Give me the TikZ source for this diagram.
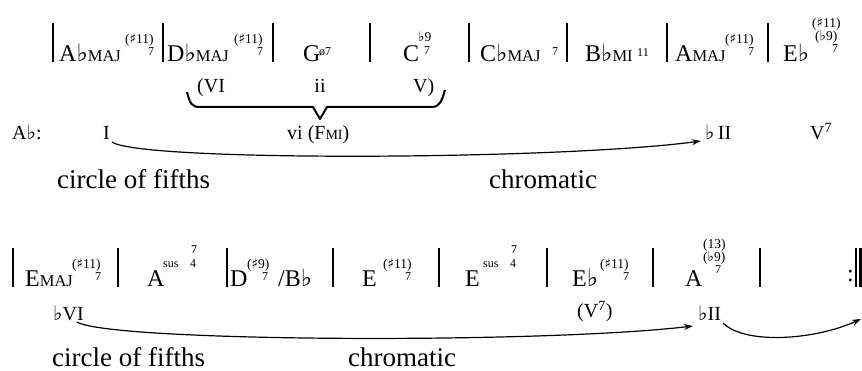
\documentclass[tikz,border=0pt]{standalone}
\usepackage{fontspec}
\setmainfont{Liberation Serif}
\newfontfamily\symf{DejaVu Sans}
\usetikzlibrary{arrows.meta}
\newcommand\fl{{\symf ♭}}
\newcommand\shp{{\symf ♯}}
\newcommand\smc[1]{{\fontsize{16.5}{16.5}\selectfont #1}}
\newcommand\smcl[1]{{\fontsize{14}{14}\selectfont #1}}
\begin{document}
\begin{tikzpicture}[x=1pt,y=-1pt,
  chord/.style={anchor=base west, inner sep=0pt, font=\fontsize{24}{24}\selectfont},
  sup/.style={anchor=base west, inner sep=0pt, font=\fontsize{13.5}{13.5}\selectfont},
  sev/.style={anchor=base west, inner sep=0pt, font=\fontsize{12}{12}\selectfont},
  lbl/.style={anchor=base west, inner sep=0pt, font=\fontsize{20}{20}\selectfont},
  lblc/.style={anchor=base, inner sep=0pt, font=\fontsize{20}{20}\selectfont},
  big/.style={anchor=base west, inner sep=0pt, font=\fontsize{27}{27}\selectfont},
  bar/.style={line width=2.4pt},
  arr/.style={line width=1.2pt, -{Stealth[length=9pt,width=6pt]}},
  bracestyle/.style={line width=2pt, line join=round}]
\useasboundingbox (0,0) rectangle (862,371);
% ---------- system 1 barlines
\foreach \bx in {53,163,273,370,469,567,667,768}
  \draw[bar] (\bx,23) -- (\bx,62);
% ---------- system 1 chords
\node[chord] (c1) at (59,62) {A\fl\smc{MAJ}};
\node[sup] (c1a) at (125,44) {(\shp11)};
\node[sev] (c1b) at (148,56) {7};
\node[chord] (c2) at (167,62) {D\fl\smc{MAJ}};
\node[sup] (c2a) at (234,44) {(\shp11)};
\node[sev] (c2b) at (257,56) {7};
\node[chord] (c3) at (303,62) {G};
\node[sev] (c3a) at (319,56) {ø7};
\node[chord] (c4) at (403,62) {C};
\node[sup] (c4a) at (418,42) {\fl9};
\node[sev] (c4b) at (424,55) {7};
\node[chord] (c5) at (480,62) {C\fl\smc{MAJ}};
\node[sev] (c5a) at (552,56) {7};
\node[chord] (c6) at (585,62) {B\fl\smc{MI}};
\node[sev] (c6a) at (637,57) {11};
\node[chord] (c7) at (675,62) {A\smc{MAJ}};
\node[sup] (c7a) at (725,44) {(\shp11)};
\node[sev] (c7b) at (748,56) {7};
\node[chord] (c8) at (783,62) {E\fl};
\node[sup] (c8a) at (812,28) {(\shp11)};
\node[sup] (c8b) at (815,41) {(\fl9)};
\node[sev] (c8c) at (832,52.5) {7};
% ---------- bracket line
\node[lbl] (r6) at (197,93) {(VI};
\node[lblc] (r2) at (320,93) {ii};
\node[lbl] (r5) at (413,93) {V)};
\draw[bracestyle] (187,92) .. controls (190,104) and (192,107) .. (200,107)
  -- (313,107) -- (320,119) -- (327,107) -- (432,107)
  .. controls (440,107) and (442,100) .. (445,90);
% ---------- analysis line 1
\node[lbl] (key) at (12,140) {A\fl:};
\node[lbl] (one) at (103,140) {I};
\node[lbl] (six) at (287,140) {vi (F\smcl{MI})};
\node[lbl] (nap) at (705,140) {\fl\,II};
\node[lbl] (dom) at (810,140) {V\textsuperscript{7}};
\coordinate (a1s) at (112,142);
\coordinate (a1e) at (701,141);
\draw[arr] (a1s) .. controls (140,162) and (560,160) .. (a1e);
\node[big] (cf1) at (57,189) {circle of fifths};
\node[big] (ch1) at (489,189) {chromatic};
% ---------- system 2 barlines
\foreach \bx in {13,118,227,333,439,547,653,760}
  \draw[bar] (\bx,248) -- (\bx,287);
\draw[line width=2.2pt] (856,248) -- (856,287);
\draw[line width=2.2pt] (860.5,248) -- (860.5,287);
\node[chord] (rpt) at (847,282) {:};
% ---------- system 2 chords
\node[chord] (d1) at (25,287) {E\smc{MAJ}};
\node[sup] (d1a) at (72,269) {(\shp11)};
\node[sev] (d1b) at (95,281) {7};
\node[chord] (d2) at (147,287) {A};
\node[sev] (d2a) at (163,268) {sus};
\node[sev] (d2b) at (190,268) {4};
\node[sev] (d2c) at (191,254) {7};
\node[chord] (d3) at (230,287) {D};
\node[sup] (d3a) at (247,269) {(\shp9)};
\node[sev] (d3b) at (262,281) {7};
\node[chord] (d3c) at (278,287) {/B\fl};
\node[chord] (d4) at (362,287) {E};
\node[sup] (d4a) at (383,269) {(\shp11)};
\node[sev] (d4b) at (405,281) {7};
\node[chord] (d5) at (465,287) {E};
\node[sev] (d5a) at (483,268) {sus};
\node[sev] (d5b) at (510,268) {4};
\node[sev] (d5c) at (511,254) {7};
\node[chord] (d6) at (572,287) {E\fl};
\node[sup] (d6a) at (600,269) {(\shp11)};
\node[sev] (d6b) at (623,281) {7};
\node[chord] (d7) at (685,287) {A};
\node[sup] (d7a) at (703,249) {(13)};
\node[sup] (d7b) at (703,262) {(\fl9)};
\node[sev] (d7c) at (715,273.5) {7};
% ---------- analysis line 2
\node[lbl] (fsix) at (53,320) {\fl VI};
\node[lbl] (vsev) at (577,318) {(V\textsuperscript{7})};
\node[lbl] (fii) at (698,320) {\fl II};
\coordinate (a2s) at (77,322);
\coordinate (a2e) at (693,326);
\draw[arr] (a2s) .. controls (110,342) and (540,344) .. (a2e);
\coordinate (a3s) at (723,323);
\coordinate (a3e) at (861,319);
\draw[arr] (a3s) .. controls (745,345) and (815,340) .. (a3e);
\node[big] (cf2) at (52,366) {circle of fifths};
\node[big] (ch2) at (348,366) {chromatic};
\end{tikzpicture}
\end{document}
